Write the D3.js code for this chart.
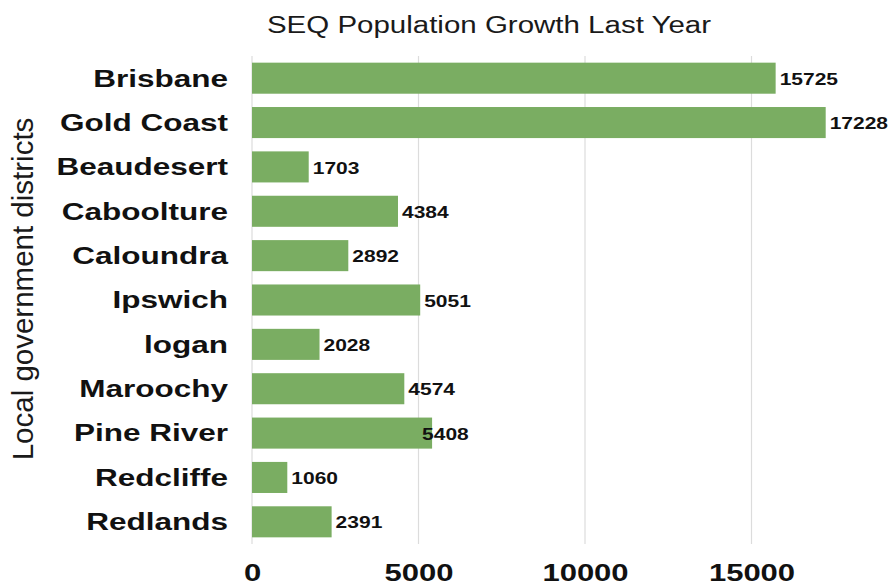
<!DOCTYPE html>
<html>
<head>
<meta charset="utf-8">
<script src="https://cdn.jsdelivr.net/npm/d3@7"></script>
<style>
  html, body { margin: 0; padding: 0; background: #fff; }
  svg { display: block; }
  text { font-family: "Liberation Sans", Arial, sans-serif; }
</style>
</head>
<body>
<svg id="chart" width="893" height="586"></svg>
<script>
const categories = ["Brisbane", "Gold Coast", "Beaudesert", "Caboolture", "Caloundra", "Ipswich", "logan", "Maroochy", "Pine River", "Redcliffe", "Redlands"];
const values = [15725, 17228, 1703, 4384, 2892, 5051, 2028, 4574, 5408, 1060, 2391];
const labelNudge = [0, 0, 0, 0, 0, 0, 0, 0, -14, 0, 0];
const tickValues = [0, 5000, 10000, 15000];
const title = "SEQ Population Growth Last Year";
const yTitle = "Local government districts";

const svg = d3.select("#chart");
const SY = 0.75;

const x = d3.scaleLinear().domain([0, 20000]).range([252, 918]);
const y = d3.scaleBand().domain(categories).range([56, 544]).paddingInner(0.3).paddingOuter(0.15);

// grid
svg.append("g").selectAll("line").data(d3.range(0, 20001, 5000)).join("line")
  .attr("x1", d => x(d)).attr("x2", d => x(d))
  .attr("y1", 56).attr("y2", 544)
  .attr("stroke", "#dcdcdc").attr("stroke-width", 1.2);

// bars
svg.append("g").selectAll("rect").data(values).join("rect")
  .attr("x", x(0))
  .attr("y", (d, i) => y(categories[i]))
  .attr("width", d => x(d) - x(0))
  .attr("height", y.bandwidth())
  .attr("fill", "#7aad62");

// value labels
svg.append("g").selectAll("text").data(values).join("text")
  .attr("transform", (d, i) => `translate(${x(d) + 4 + labelNudge[i]},${y(categories[i]) + y.bandwidth() / 2 + 6.6}) scale(1,0.82)`)
  .attr("font-size", 21).attr("font-weight", "bold").attr("fill", "#111")
  .text(d => d);

// y axis (categories)
const yAxis = svg.append("g").attr("transform", `translate(${x(0)},0)`)
  .call(d3.axisLeft(y).tickSize(0).tickPadding(0));
yAxis.select(".domain").remove();
yAxis.selectAll("text")
  .attr("x", null).attr("dy", null)
  .attr("transform", `translate(-24,8.4) scale(1,0.76)`)
  .attr("text-anchor", "end")
  .attr("font-family", "'Liberation Sans', Arial, sans-serif")
  .attr("font-size", 31.5).attr("font-weight", "bold").attr("fill", "#111");

// x axis
const xAxis = svg.append("g").attr("transform", "translate(0,544)")
  .call(d3.axisBottom(x).tickValues(tickValues).tickFormat(d3.format("d")).tickSize(0));
xAxis.select(".domain").remove();
xAxis.selectAll("text")
  .attr("y", null).attr("dy", null)
  .attr("transform", `translate(0,37) scale(1,${SY})`)
  .attr("font-family", "'Liberation Sans', Arial, sans-serif")
  .attr("font-size", 31).attr("font-weight", "bold").attr("fill", "#111");

// title
svg.append("text")
  .attr("transform", `translate(489,33) scale(1,0.78)`)
  .attr("text-anchor", "middle")
  .attr("font-size", 29.5).attr("fill", "#1a1a1a")
  .text(title);

// y title
svg.append("text")
  .attr("transform", `translate(33,289) rotate(-90)`)
  .attr("text-anchor", "middle")
  .attr("font-size", 29.5).attr("fill", "#1a1a1a")
  .text(yTitle);
</script>
</body>
</html>
